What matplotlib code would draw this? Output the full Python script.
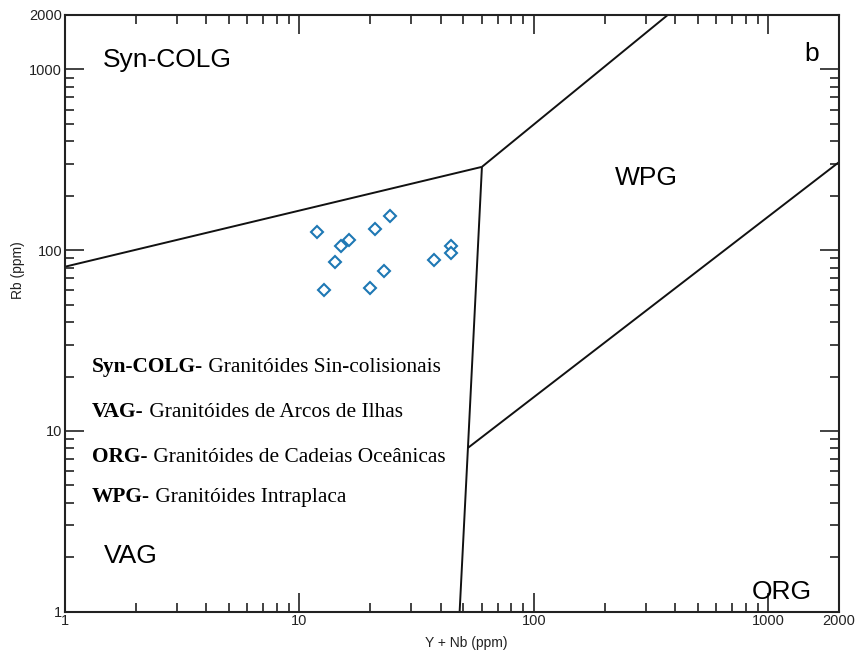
import numpy as np
import matplotlib
matplotlib.use('Agg')
import matplotlib.pyplot as plt

# amostras (Y+Nb, Rb) em ppm
y_nb = [11.9, 24.4, 21.0, 16.3, 15.1, 14.2, 12.7, 19.9, 23.0, 37.3, 44.4, 44.4]
rb = [126, 155, 131, 114, 105, 86, 60, 62, 77, 88, 106, 96]

# limites dos campos (Pearce)
syn_vag_x, syn_vag_y = [1, 60], [81, 289]
syn_wpg_x, syn_wpg_y = [60, 372], [289, 2000]
vag_wpg_x, vag_wpg_y = [60, 52.3, 48.2], [289, 8.06, 1]
org_wpg_x, org_wpg_y = [52.3, 2000], [8.06, 307]

ticks = [1, 10, 100, 1000, 2000]
tick_labels = ['1', '10', '100', '1000', '2000']

legenda = [("Syn-COLG-", " Granitóides Sin-colisionais"),
           ("VAG-", " Granitóides de Arcos de Ilhas"),
           ("ORG-", " Granitóides de Cadeias Oceânicas"),
           ("WPG-", " Granitóides Intraplaca")]

plt.rcParams['font.family'] = ['Liberation Sans', 'DejaVu Sans']

fig = plt.figure(figsize=(8.61, 6.5), dpi=100)
ax = fig.add_axes([65/861, 1-611.7/650, 774/861, 596.7/650])
ax.set_xscale('log')
ax.set_yscale('log')
ax.set_xlim(1, 2000)
ax.set_ylim(1, 2000)

for xs, ys in [(syn_vag_x, syn_vag_y), (syn_wpg_x, syn_wpg_y),
               (vag_wpg_x, vag_wpg_y), (org_wpg_x, org_wpg_y)]:
    ax.plot(xs, ys, color='#111111', lw=1.4, solid_capstyle='butt')

ax.plot(y_nb, rb, ls='none', marker='D', ms=6, mfc='white',
        mec='#1e78b4', mew=1.5)

ax.set_xticks(ticks)
ax.set_xticklabels(tick_labels)
ax.set_yticks(ticks)
ax.set_yticklabels(tick_labels)
ax.tick_params(which='both', direction='in', top=True, right=True,
               colors='#222222', labelsize=10.5, width=1.2)
ax.tick_params(which='major', length=14, pad=2)
ax.tick_params(which='minor', length=6.5)
for s in ax.spines.values():
    s.set_linewidth(1.5)
    s.set_color('#222222')

ax.set_xlabel('Y + Nb (ppm)', fontsize=10, color='#222222')
ax.set_ylabel('Rb (ppm)', fontsize=10, color='#222222')
ax.xaxis.set_label_coords(0.519, -0.04)
ax.yaxis.set_label_coords(-0.052, 0.573)

ax.text(0.049, 0.924, 'Syn-COLG', transform=ax.transAxes, fontsize=19,
        ha='left', va='center')
ax.text(0.965, 0.935, 'b', transform=ax.transAxes, fontsize=19,
        ha='center', va='center')
ax.text(0.751, 0.727, 'WPG', transform=ax.transAxes, fontsize=19,
        ha='center', va='center')
ax.text(0.050, 0.094, 'VAG', transform=ax.transAxes, fontsize=19,
        ha='left', va='center')
ax.text(0.926, 0.033, 'ORG', transform=ax.transAxes, fontsize=19,
        ha='center', va='center')

ys_leg = [0.410, 0.335, 0.260, 0.193]
for (b, r), yy in zip(legenda, ys_leg):
    t1 = ax.text(0.035, yy, b, transform=ax.transAxes, fontsize=15.4,
                 family='Liberation Serif', weight='bold', ha='left', va='center')
    ax.annotate(r, xy=(1, 0), xycoords=t1, fontsize=15.4,
                family='Liberation Serif', ha='left', va='bottom')

fig.savefig('out.png', dpi=100)
